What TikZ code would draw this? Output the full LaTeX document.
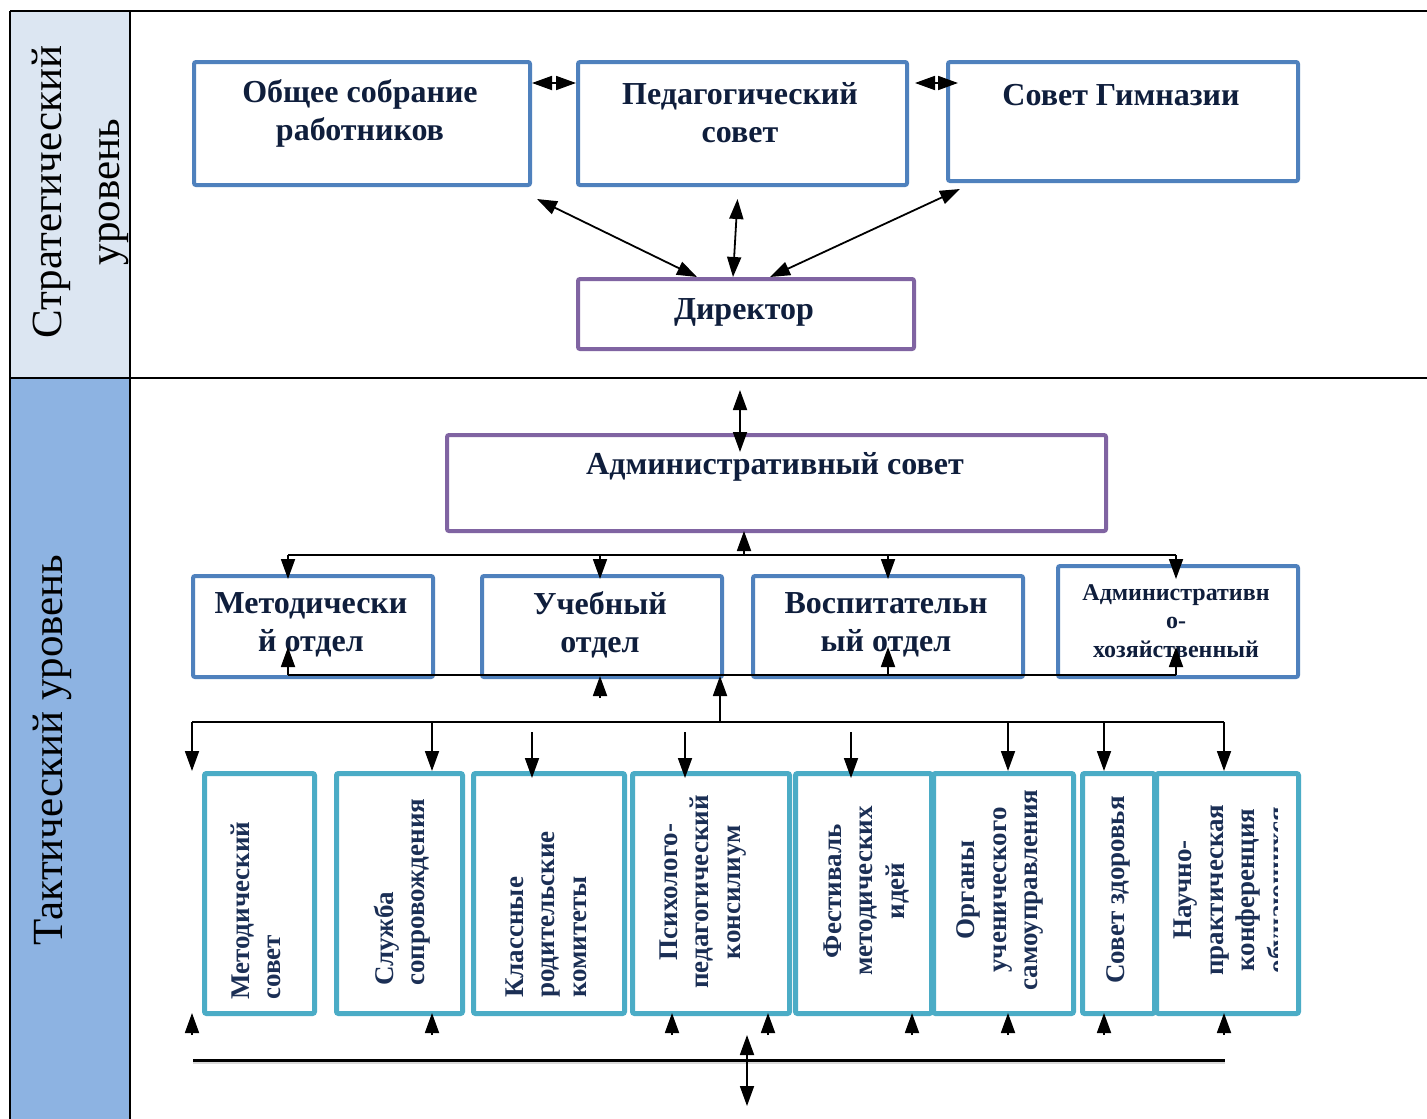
\documentclass[tikz,border=0pt]{standalone}
\usepackage{fontspec}
\setmainfont{Liberation Serif}
\usetikzlibrary{arrows.meta}
\definecolor{boxblue}{HTML}{4F81BD}
\definecolor{boxpurple}{HTML}{8064A2}
\definecolor{boxteal}{HTML}{4BACC6}
\definecolor{cellA}{HTML}{DCE6F2}
\definecolor{cellB}{HTML}{8DB3E2}
\definecolor{tnavy}{HTML}{0F1E3C}
\definecolor{vnavy}{HTML}{1B2F55}
\begin{document}
\begin{tikzpicture}[x=1pt,y=-1pt,
  sz/.style n args={2}{minimum width=#1, minimum height=#2},
  bluebox/.style={draw=boxblue, line width=4pt, rounded corners=2pt, inner sep=0, anchor=north west},
  purplebox/.style={draw=boxpurple, line width=4pt, rounded corners=2pt, inner sep=0, anchor=north west},
  tealbox/.style={draw=boxteal, line width=5pt, rounded corners=2pt, inner sep=0, anchor=north west},
  btxt/.style={font=\fontsize{32}{38}\selectfont\bfseries, text=tnavy, align=center, inner sep=0},
  stxt/.style={font=\fontsize{24}{28.5}\selectfont\bfseries, text=tnavy, align=center, inner sep=0},
  vtxt/.style={font=\fontsize{27}{31.5}\selectfont\bfseries, text=vnavy, rotate=90, inner sep=0},
  lvltxt/.style={font=\fontsize{43}{58}\selectfont, text=black, rotate=90, align=center, inner sep=0},
  grid/.style={line width=2pt, draw=black},
  bus/.style={line width=1.8pt},
  conn/.style={line width=1.8pt, -{Triangle[width=14pt,length=20pt]}},
  dconn/.style={line width=1.8pt, {Triangle[width=14pt,length=20pt]}-{Triangle[width=14pt,length=20pt]}}
]
\useasboundingbox (0,0) rectangle (1427,1119);
\fill[white] (0,0) rectangle (1427,1119);

% ---------- table frame ----------
\fill[cellA] (10,11) rectangle (130,378);
\fill[cellB] (10,378) rectangle (130,1119);
\draw[grid] (10,11) -- (1427,11);
\draw[grid] (10,378) -- (1427,378);
\draw[grid] (10,11) -- (10,1119);
\draw[grid] (130,11) -- (130,1119);
\node[lvltxt] (lvl1) at (80,192) {Стратегический\\уровень};
\node[lvltxt] (lvl2) at (52,750) {Тактический уровень};

% ---------- strategic level ----------
\node[bluebox, sz={336}{123}] (b1) at (192,60) {};
\node[bluebox, sz={329}{123}] (b2) at (576,60) {};
\node[bluebox, sz={350}{119}] (b3) at (946,60) {};
\node[purplebox, sz={336}{70}] (dir) at (576,277) {};
\node[btxt] (b1t) at (360,113) {Общее собрание\\работников};
\node[btxt] (b2t) at (740,113) {Педагогический\\совет};
\node[btxt] (b3t) at (1121,95) {Совет Гимназии};
\node[btxt] (dirt) at (744,312) {Директор};

\draw[dconn] ([yshift=-23]b1.north east) -- ([yshift=-23]b2.north west);
\draw[dconn] ([xshift=6,yshift=-23]b2.north east) -- ([xshift=12,yshift=-23]b3.north west);
\draw[dconn] ([xshift=5,yshift=-12]b1.south east) -- ([xshift=-49]dir.north);
\draw[dconn] ([xshift=-5,yshift=-12]b2.south) -- ([xshift=-13]dir.north);
\draw[dconn] ([xshift=14,yshift=-6]b3.south west) -- ([xshift=24]dir.north);

% ---------- tactical level ----------
\node[purplebox, sz={659}{96}] (adm) at (445,433) {};
\node[btxt] (admt) at (775,467) {Административный совет};
\coordinate (admtop) at (740,390);
\coordinate (admin) at (740,452);
\draw[dconn] (admtop) -- (admin);

\node[bluebox, sz={240}{101}] (d1) at (191,574) {};
\node[bluebox, sz={240}{101}] (d2) at (480,574) {};
\node[bluebox, sz={270}{101}] (d3) at (751,574) {};
\node[bluebox, sz={240}{111}] (d4) at (1056,564) {};
\node[btxt] (d1t) at (311,625) {Методически\\й отдел};
\node[btxt] (d2t) at (600,625) {Учебный\\отдел};
\node[btxt] (d3t) at (886,625) {Воспитательн\\ый отдел};
\node[stxt] (d4t) at (1176,621) {Административн\\о-\\хозяйственный};

% upper bus
\coordinate (ub1) at (288,555);
\coordinate (ub2) at (600,555);
\coordinate (ub3) at (888,555);
\coordinate (ub4) at (1176,555);
\coordinate (ubc) at (744,555);
\coordinate (admbot) at (744,531);
\draw[bus] (ub1) -- (ub4);
\draw[conn] (ubc) -- (admbot);
\draw[conn] (ub1) -- (288,579);
\draw[conn] (ub2) -- (600,579);
\draw[conn] (ub3) -- (888,579);
\draw[conn] (ub4) -- (1176,579);

% lower bus of departments
\coordinate (lb1) at (288,675);
\coordinate (lb3) at (888,675);
\coordinate (lb4) at (1176,675);
\draw[bus] (lb1) -- (lb4);
\draw[conn] (lb1) -- (288,647);
\draw[conn] (lb3) -- (888,647);
\draw[conn] (lb4) -- (1176,647);
\coordinate (d2in) at (600,698);
\draw[conn] (d2in) -- (600,676);

% tree to the bodies
\coordinate (tb0) at (720,722);
\coordinate (tbL) at (192,722);
\coordinate (tbR) at (1224,722);
\draw[bus] (tbL) -- (tbR);
\draw[conn] (tb0) -- (720,676);

\node[tealbox, sz={110}{240}] (v1) at (202,771) {};
\node[tealbox, sz={126}{240}] (v2) at (334,771) {};
\node[tealbox, sz={151}{240}] (v3) at (471,771) {};
\node[tealbox, sz={157}{240}] (v4) at (630,771) {};
\node[tealbox, sz={136}{240}] (v5) at (793,771) {};
\node[tealbox, sz={140}{240}] (v6) at (931,771) {};
\node[tealbox, sz={72}{240}] (v7) at (1080,771) {};
\node[tealbox, sz={142}{240}] (v8) at (1154,771) {};

\draw[conn] (tbL) -- (192,771);
\draw[conn] (432,722) -- (432,771);
\draw[conn] (1008,722) -- (1008,771);
\draw[conn] (1104,722) -- (1104,771);
\draw[conn] (tbR) -- (1224,771);
\coordinate (f3) at (532,732);
\coordinate (f4) at (685,732);
\coordinate (f5) at (851,732);
\draw[conn] (f3) -- (532,778);
\draw[conn] (f4) -- (685,778);
\draw[conn] (f5) -- (851,778);

\node[vtxt, anchor=west, align=left] (v1t) at (256,1000) {Методический\\совет};
\node[vtxt, anchor=west, align=left] (v2t) at (402,986) {Служба\\сопровождения};
\node[vtxt, anchor=west, align=left] (v3t) at (546,998) {Классные\\родительские\\комитеты};
\node[vtxt, align=center] (v4t) at (703,892) {Психолого-\\педагогический\\консилиум};
\node[vtxt, align=center] (v5t) at (866,891) {Фестиваль\\методических\\идей};
\node[vtxt, align=center] (v6t) at (1000,890) {Органы\\ученического\\самоуправления};
\node[vtxt, align=center] (v7t) at (1118,890) {Совет здоровья};
\begin{scope}
\clip (1158,775) rectangle (1277,1008);
\node[vtxt, align=center] (v8t) at (1233,890) {Научно-\\практическая\\конференция\\обучающихся};
\end{scope}

% bottom
\foreach \xx/\nm in {192/a,432/b,672/c,768/d,912/e,1008/f,1104/g,1224/h}{
  \coordinate (bu\nm) at (\xx,1035);
  \draw[conn] (bu\nm) -- (\xx,1013);
}
\coordinate (blL) at (193,1060);
\coordinate (blR) at (1225,1060);
\draw[line width=4pt, black!15] (193,1062) -- (1225,1062);
\draw[line width=3pt] (blL) -- (blR);
\coordinate (bdt) at (747,1035);
\coordinate (bdb) at (747,1106);
\draw[dconn] (bdt) -- (bdb);
\end{tikzpicture}
\end{document}
